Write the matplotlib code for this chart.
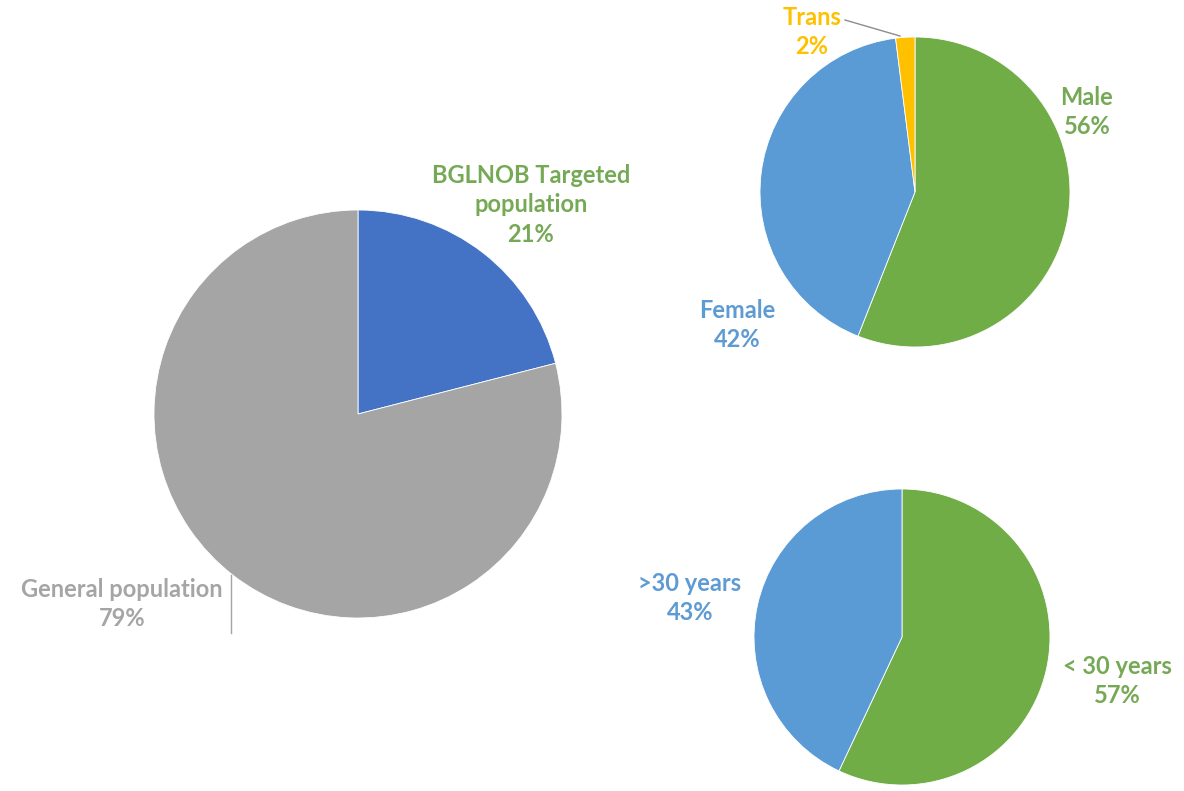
import matplotlib
matplotlib.use('Agg')
import matplotlib.pyplot as plt

plt.rcParams['font.family'] = ['Lato', 'DejaVu Sans']

W, H = 1184, 791

# data
pop_labels = ['BGLNOB Targeted\npopulation', 'General population']
pop_values = [21, 79]
pop_colors = ['#4472C4', '#A5A5A5']

gender_labels = ['Male', 'Female', 'Trans']
gender_values = [56, 42, 2]
gender_colors = ['#70AD47', '#5B9BD5', '#FFC000']

age_labels = ['< 30 years', '>30 years']
age_values = [57, 43]
age_colors = ['#70AD47', '#5B9BD5']


def pie_axes(fig, cx, cy, r):
    # pie centre and radius in pixels, y from the top
    ax = fig.add_axes([(cx - r) / W, (H - cy - r) / H, 2 * r / W, 2 * r / H])
    return ax


def draw_pie(ax, values, colors):
    ax.pie(values, colors=colors, startangle=90, counterclock=False,
           radius=1, wedgeprops=dict(edgecolor='white', linewidth=0.6))
    ax.set_xlim(-1, 1)
    ax.set_ylim(-1, 1)
    ax.set_aspect('equal')
    ax.axis('off')


def label(ax, cx, cy, r, px, py, text, color):
    # place a label at pixel position (px, py)
    ax.text((px - cx) / r, (cy - py) / r, text, color=color, fontsize=17,
            fontweight='bold', ha='center', va='center', linespacing=1.32)


fig = plt.figure(figsize=(W / 100, H / 100), dpi=100)
fig.patch.set_facecolor('white')

# big pie
cx, cy, r = 358, 414, 204
ax1 = pie_axes(fig, cx, cy, r)
draw_pie(ax1, pop_values, pop_colors)
label(ax1, cx, cy, r, 531, 205, pop_labels[0] + '\n%d%%' % pop_values[0], '#76A955')
label(ax1, cx, cy, r, 122, 604, pop_labels[1] + '\n%d%%' % pop_values[1], '#A5A5A5')
ax1.plot([(231 - cx) / r, (231 - cx) / r], [(cy - 575) / r, (cy - 633) / r],
         color='#A5A5A5', lw=1, clip_on=False)

# gender pie
cx, cy, r = 915, 192, 155
ax2 = pie_axes(fig, cx, cy, r)
draw_pie(ax2, gender_values, gender_colors)
label(ax2, cx, cy, r, 1087, 112, gender_labels[0] + '\n%d%%' % gender_values[0], '#76A955')
label(ax2, cx, cy, r, 737, 325, gender_labels[1] + '\n%d%%' % gender_values[1], '#5F9BD3')
label(ax2, cx, cy, r, 812, 32, gender_labels[2] + '\n%d%%' % gender_values[2], '#FFC000')
ax2.plot([(845 - cx) / r, (900 - cx) / r], [(cy - 20) / r, (cy - 36) / r],
         color='#8C8C8C', lw=1, clip_on=False)

# age pie
cx, cy, r = 902, 637, 148
ax3 = pie_axes(fig, cx, cy, r)
draw_pie(ax3, age_values, age_colors)
label(ax3, cx, cy, r, 1117, 681, age_labels[0] + '\n%d%%' % age_values[0], '#76A955')
label(ax3, cx, cy, r, 690, 598, age_labels[1] + '\n%d%%' % age_values[1], '#5F9BD3')

fig.savefig('out.png', dpi=100, facecolor='white')
